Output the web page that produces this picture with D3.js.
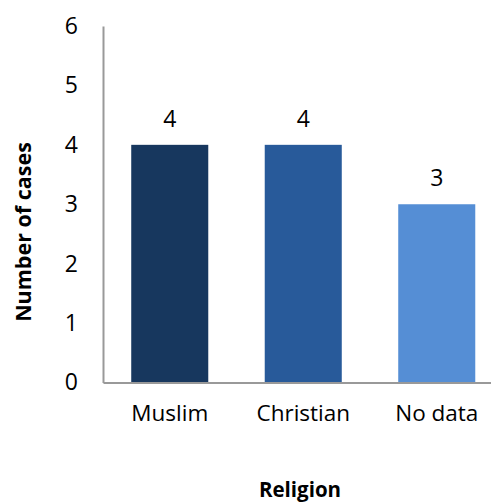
<!DOCTYPE html>
<html><head><meta charset="utf-8">
<script src="https://cdn.jsdelivr.net/npm/d3@7"></script>
<style>
html,body{margin:0;padding:0;background:#fff;}
svg{display:block;font-family:"Open Sans",sans-serif;}
</style></head>
<body><svg id="c" width="491" height="502"></svg>
<script>
const categories = ["Muslim", "Christian", "No data"];
const values = [4, 4, 3];
const colors = ["#17375E", "#285A9A", "#558ED5"];
const yTicks = [0, 1, 2, 3, 4, 5, 6];
const yTitle = "Number of cases";
const xTitle = "Religion";

const svg = d3.select("#c");
const x0 = 103, x1 = 503.5, yTop = 26, yBot = 382.5;
const x = d3.scaleBand().domain(categories).range([x0, x1]).paddingInner(0.423).paddingOuter(0.2115);
const y = d3.scaleLinear().domain([0, 6]).range([yBot, yTop]);

// bars
svg.selectAll("rect.bar").data(values).join("rect")
  .attr("class", "bar")
  .attr("x", (d, i) => x(categories[i]))
  .attr("width", x.bandwidth())
  .attr("y", d => y(d))
  .attr("height", d => y(0) - y(d))
  .attr("fill", (d, i) => colors[i]);

// value labels
svg.selectAll("text.val").data(values).join("text")
  .attr("class", "val")
  .attr("x", (d, i) => x(categories[i]) + x.bandwidth() / 2)
  .attr("y", d => y(d) - 18)
  .attr("text-anchor", "middle")
  .attr("font-size", 23)
  .attr("fill", "#000")
  .text(d => d);

// y axis
const ya = svg.append("g").attr("transform", `translate(${x0},0)`)
  .call(d3.axisLeft(y).tickValues(yTicks).tickSize(0).tickPadding(25).tickFormat(d3.format("d")));
ya.select(".domain").attr("stroke", "#999").attr("stroke-width", 2);
ya.selectAll("text").attr("font-size", 23).attr("fill", "#000").attr("font-family", "Open Sans");

// x axis
const xa = svg.append("g").attr("transform", `translate(0,${yBot})`)
  .call(d3.axisBottom(x).tickSize(0).tickPadding(23));
xa.select(".domain").attr("stroke", "#999").attr("stroke-width", 2);
xa.selectAll("text").attr("font-size", 22.5).attr("fill", "#000").attr("font-family", "Open Sans");

// titles
svg.append("text")
  .attr("transform", `translate(31,232) rotate(-90)`)
  .attr("text-anchor", "middle")
  .attr("font-size", 21.5).attr("font-weight", "bold")
  .text(yTitle);
svg.append("text")
  .attr("x", 300).attr("y", 497)
  .attr("text-anchor", "middle")
  .attr("font-size", 20.5).attr("font-weight", "bold")
  .text(xTitle);
</script></body></html>
